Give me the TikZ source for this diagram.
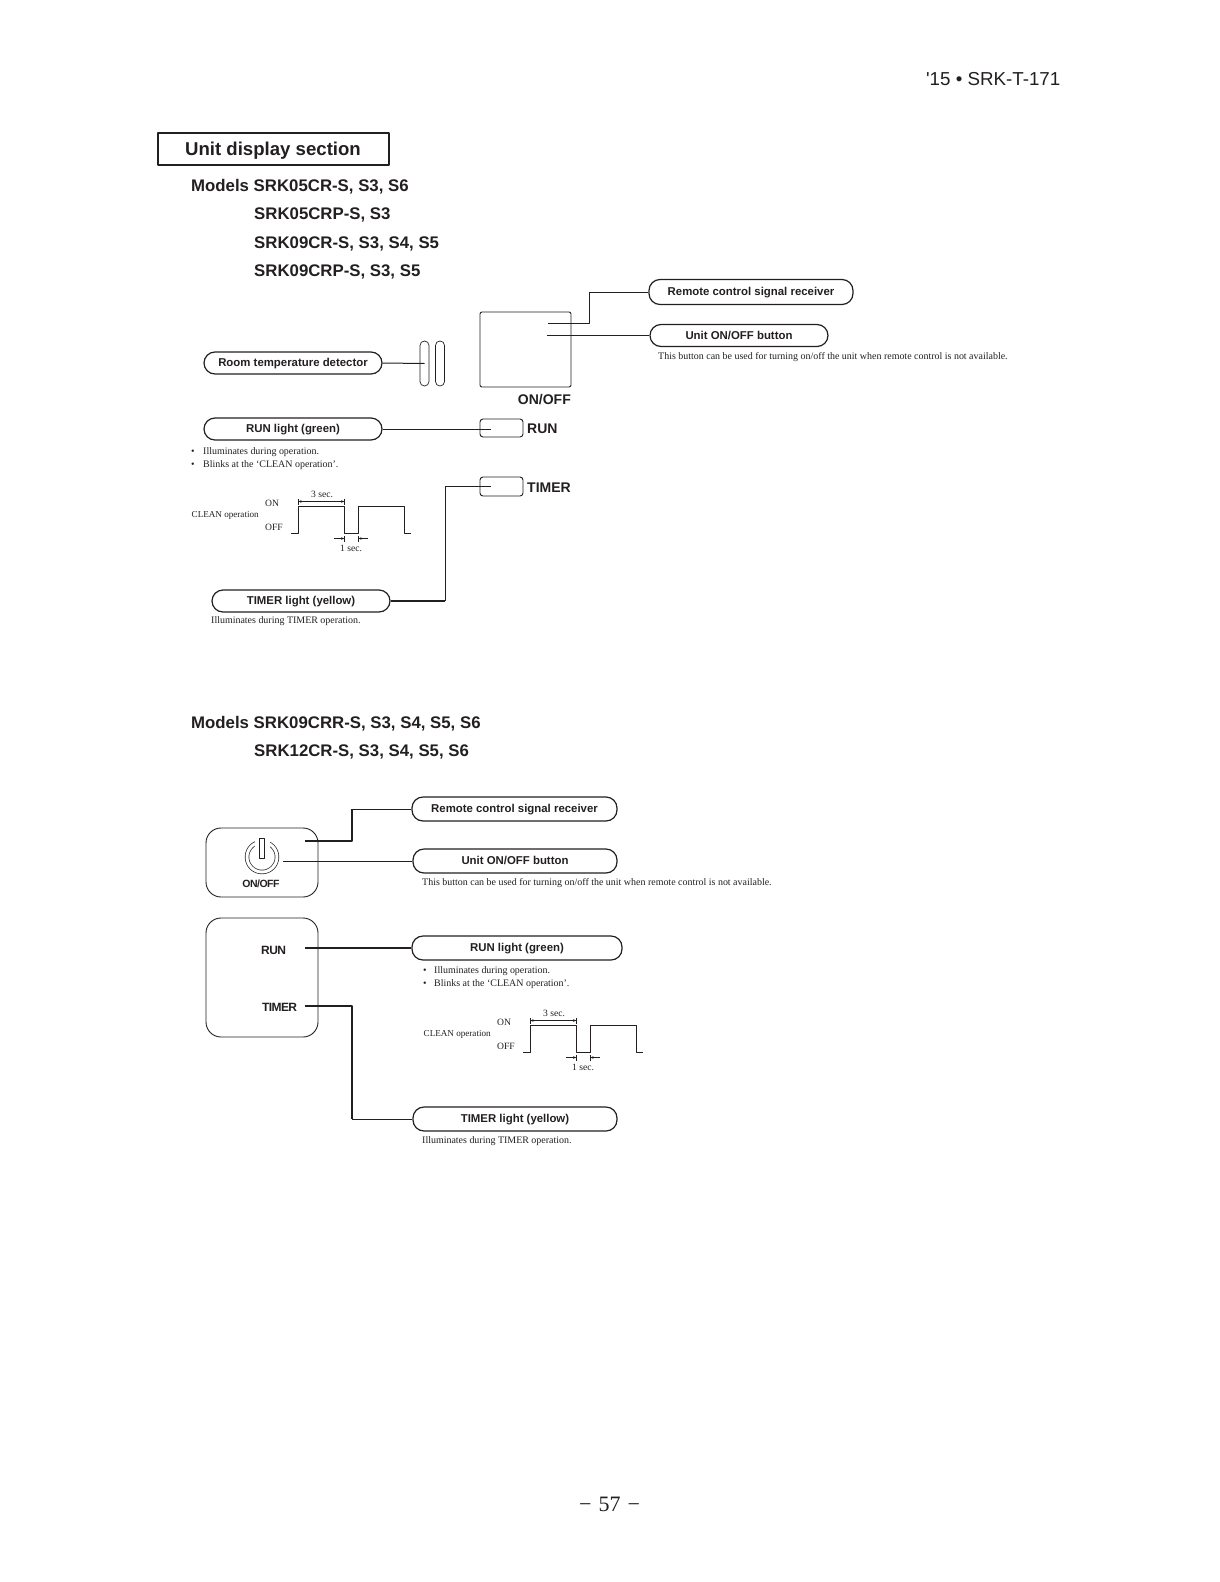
\documentclass[tikz,border=0pt]{standalone}
\usepackage{fontspec}
\setmainfont{Liberation Serif}
\setsansfont{Liberation Sans}
\newfontfamily\headsans{Liberation Sans}
\newfontfamily\tightsans[LetterSpace=-5]{Liberation Sans}
\usepackage{xcolor}
\usetikzlibrary{arrows.meta}
\definecolor{inkgray}{RGB}{35,31,32}

\begin{document}
\begin{tikzpicture}[x=1pt, y=-1pt, color=inkgray, text=inkgray, line join=round]
    \tikzstyle{pill} = [rectangle, rounded corners=11pt, draw=inkgray, line width=1.2pt, inner sep=0pt, text centered, text height=7.6pt, text depth=0pt, font=\sffamily\bfseries\fontsize{11.4}{13}\selectfont]
    \tikzstyle{lamp} = [rectangle, rounded corners=3pt, draw=inkgray, line width=0.9pt, inner sep=0pt]
    \tikzstyle{panel} = [rectangle, rounded corners=15pt, draw=inkgray, line width=0.9pt, inner sep=0pt, minimum width=112pt]
    \tikzstyle{capsule} = [rectangle, rounded corners=4.4pt, draw=inkgray, line width=0.7pt, inner sep=0pt, minimum width=9pt, minimum height=45pt]
    \tikzstyle{model} = [anchor=base west, inner sep=0pt, font=\sffamily\bfseries\fontsize{16.8}{20}\selectfont]
    \tikzstyle{face} = [anchor=base west, inner sep=0pt, font=\sffamily\bfseries\fontsize{14}{16}\selectfont]
    \tikzstyle{print} = [anchor=base west, inner sep=0pt, font=\tightsans\bfseries\fontsize{12}{14}\selectfont]
    \tikzstyle{note} = [anchor=base west, inner sep=0pt, font=\fontsize{9.96}{12}\selectfont]
    \tikzstyle{chart} = [anchor=base west, inner sep=0pt, font=\fontsize{9.6}{12}\selectfont]
    \tikzstyle{wire} = [draw=inkgray, line width=1pt]
    \tikzstyle{thickwire} = [draw=inkgray, line width=1.7pt]
    \tikzstyle{span} = [draw=inkgray, line width=0.5pt]
    \useasboundingbox (0,0) rectangle (1219,1582);

    % Page furniture
    \node [anchor=base east, inner sep=0pt, font=\headsans\fontsize{18.75}{22}\selectfont] (docref) at (1060.5,85) {'15 • SRK-T-171};
    \node [inner sep=0pt, font=\fontsize{22}{24}\selectfont, anchor=base] (pageno) at (609.5,1511) {−\hspace{7pt}57\hspace{7pt}−};
    \node [rectangle, draw=inkgray, line width=2pt, inner sep=0pt, minimum width=231pt, minimum height=32pt, text height=12.4pt, text depth=0pt, font=\sffamily\bfseries\fontsize{18.6}{22}\selectfont] (title) at (273,149) {Unit display section};

    % Upper models
    \node [model] (modela) at (191,191) {Models SRK05CR-S, S3, S6};
    \node [model] (modelb) at (254,219) {SRK05CRP-S, S3};
    \node [model] (modelc) at (254,248) {SRK09CR-S, S3, S4, S5};
    \node [model] (modeld) at (254,276) {SRK09CRP-S, S3, S5};

    % Upper unit face
    \node [rectangle, rounded corners=2pt, draw=inkgray, line width=0.9pt, minimum width=91pt, minimum height=75pt] (facebox) at (525.5,349.5) {};
    \node [capsule] (capa) at (424.5,363.5) {};
    \node [capsule] (capb) at (440,363.5) {};
    \node [lamp, minimum width=43pt, minimum height=18pt] (runlamp) at (501.5,428) {};
    \node [lamp, minimum width=43pt, minimum height=19pt] (timerlamp) at (501.5,486.5) {};
    \node [face, anchor=base east] (onofflabel) at (571,404) {ON/OFF};
    \node [face] (runlabel) at (527,433) {RUN};
    \node [face] (timerlabel) at (527,492) {TIMER};

    % Upper callouts
    \node [pill, minimum width=204pt, minimum height=25pt] (recva) at (751,292) {Remote control signal receiver};
    \node [pill, minimum width=178pt, minimum height=22pt] (btna) at (739,335.5) {Unit ON/OFF button};
    \node [pill, minimum width=178pt, minimum height=22pt] (rooma) at (293,363) {Room temperature detector};
    \node [pill, minimum width=178pt, minimum height=22pt] (runa) at (293,429) {RUN light (green)};
    \node [pill, minimum width=178pt, minimum height=22pt] (timera) at (301,601) {TIMER light (yellow)};
    \node [note] (btnnotea) at (658,359) {This button can be used for turning on/off the unit when remote control is not available.};
    \node [note] (runnoteaa) at (191,454) {•};
    \node [note] (runnoteab) at (203,454) {Illuminates during operation.};
    \node [note] (runnoteac) at (191,467) {•};
    \node [note] (runnotead) at (203,467) {Blinks at the ‘CLEAN operation’.};
    \node [note] (timernotea) at (211,623) {Illuminates during TIMER operation.};

    % Upper leaders
    \coordinate (recvina) at (548,323);
    \coordinate (recvbenda) at (589,292);
    \coordinate (btnina) at (547,335.5);
    \coordinate (runina) at (491,429);
    \coordinate (timerina) at (491,486);
    \coordinate (timerbenda) at (445,601);
    \draw [wire] (recvina) -| (recvbenda) -- (recva.west);
    \draw [wire] (btnina) -- (btna.west);
    \draw [wire] (rooma.east) -- (capa.center);
    \draw [wire] (runa.east) -- (runina);
    \draw [thickwire] (timera.east) -- (timerbenda);
    \draw [wire] (timerbenda) |- (timerina);

    % CLEAN operation charts
    \foreach \dx/\dy/\id in {0/0/a,232/519/b} {
        \begin{scope}[shift={(\dx,\dy)}, name prefix=\id-]
            \node [chart, font=\fontsize{9.1}{12}\selectfont] (cleanlabel) at (191.5,517) {CLEAN operation};
            \node [chart] (onlabel) at (265,506) {ON};
            \node [chart] (offlabel) at (265,530) {OFF};
            \node [chart, anchor=base] (threelabel) at (322,497) {3 sec.};
            \node [chart, anchor=base] (onelabel) at (351,551) {1 sec.};
            \draw [wire] (291,533) -- (298,533) -- (298,506) -- (344.5,506) -- (344.5,533) -- (358,533) -- (358,506) -- (404.5,506) -- (404.5,533) -- (411,533);
            \coordinate (threea) at (298,501.5);
            \coordinate (threeb) at (344.5,501.5);
            \coordinate (onea) at (334,538.5);
            \coordinate (oneb) at (344.5,538.5);
            \coordinate (onec) at (368,538.5);
            \coordinate (oned) at (358,538.5);
            \draw [span, {Bar[width=6pt,sep=0pt]Stealth[length=3pt,width=2.6pt,sep=0pt]}-{Stealth[length=3pt,width=2.6pt,sep=0pt]Bar[width=6pt,sep=0pt]}] (threea) -- (threeb);
            \draw [span, -{Stealth[length=3pt,width=2.6pt,sep=0pt]Bar[width=6pt,sep=0pt]}] (onea) -- (oneb);
            \draw [span, -{Stealth[length=3pt,width=2.6pt,sep=0pt]Bar[width=6pt,sep=0pt]}] (onec) -- (oned);
        \end{scope}
    }

    % Lower models
    \node [model] (modele) at (191,728) {Models SRK09CRR-S, S3, S4, S5, S6};
    \node [model] (modelf) at (254,756) {SRK12CR-S, S3, S4, S5, S6};

    % Lower unit face
    \node [panel, minimum height=69pt] (switchpanel) at (262,862.5) {};
    \node [panel, minimum height=119pt] (lamppanel) at (262,977.5) {};
    \node [circle, draw=inkgray, line width=0.7pt, double=white, double distance=3pt, inner sep=0pt, minimum size=30pt] (powerring) at (262,857) {};
    \node [rectangle, fill=white, inner sep=0pt, minimum width=15pt, minimum height=10pt] (powergap) at (262,842) {};
    \node [rectangle, draw=inkgray, line width=0.7pt, fill=white, inner sep=0pt, minimum width=4.6pt, minimum height=20pt] (powerbar) at (261.8,848) {};
    \node [print, anchor=base, font=\tightsans\bfseries\fontsize{10.5}{12}\selectfont] (switchprint) at (261,887) {ON/OFF};
    \node [print] (runprint) at (261,954) {RUN};
    \node [print] (timerprint) at (262,1011) {TIMER};

    % Lower callouts
    \node [pill, minimum width=205pt, minimum height=24pt] (recvb) at (514.5,809) {Remote control signal receiver};
    \node [pill, minimum width=204pt, minimum height=24pt] (btnb) at (515,861) {Unit ON/OFF button};
    \node [pill, minimum width=210pt, minimum height=24pt] (runb) at (517,948) {RUN light (green)};
    \node [pill, minimum width=204pt, minimum height=24pt] (timerb) at (515,1119) {TIMER light (yellow)};
    \node [note] (btnnoteb) at (422,885) {This button can be used for turning on/off the unit when remote control is not available.};
    \node [note] (runnoteba) at (423,973) {•};
    \node [note] (runnotebb) at (434,973) {Illuminates during operation.};
    \node [note] (runnotebc) at (423,986) {•};
    \node [note] (runnotebd) at (434,986) {Blinks at the ‘CLEAN operation’.};
    \node [note] (timernoteb) at (422,1143) {Illuminates during TIMER operation.};

    % Lower leaders
    \coordinate (recvinb) at (305,841);
    \coordinate (recvbendb) at (352,809);
    \coordinate (btninb) at (283,861);
    \coordinate (runinb) at (305,948);
    \coordinate (timerinb) at (305,1006);
    \coordinate (timerbendb) at (352,1119);
    \draw [thickwire] (recvinb) -| (recvbendb);
    \draw [wire] (recvbendb) -- (recvb.west);
    \draw [wire] (btninb) -- (btnb.west);
    \draw [thickwire] (runinb) -- (runb.west);
    \draw [thickwire] (timerinb) -| (timerbendb);
    \draw [wire] (timerbendb) -- (timerb.west);
\end{tikzpicture}
\end{document}
